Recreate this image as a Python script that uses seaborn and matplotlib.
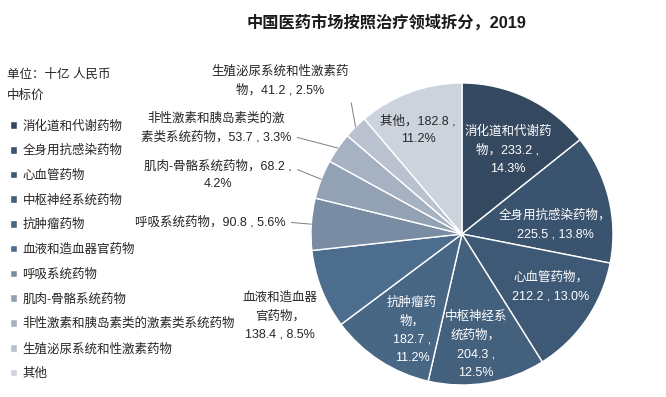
import numpy as np
import matplotlib
matplotlib.use("Agg")
import matplotlib.pyplot as plt
import seaborn as sns

# 中国医药市场按照治疗领域拆分, 2019 (十亿人民币, 中标价)
categories = ["消化道和代谢药物", "全身用抗感染药物", "心血管药物", "中枢神经系统药物",
              "抗肿瘤药物", "血液和造血器官药物", "呼吸系统药物", "肌肉-骨骼系统药物",
              "非性激素和胰岛素类的激素类系统药物", "生殖泌尿系统和性激素药物", "其他"]
values = [233.2, 225.5, 212.2, 204.3, 182.7, 138.4, 90.8, 68.2, 53.7, 41.2, 182.8]
pcts = ["14.3%", "13.8%", "13.0%", "12.5%", "11.2%", "8.5%", "5.6%", "4.2%", "3.3%", "2.5%", "11.2%"]
# how each data label is wrapped on the chart
label_fmt = ["消化道和代谢药\n物，{v} ,\n{p}",
             "全身用抗感染药物，\n{v} , {p}",
             "心血管药物，\n{v} , {p}",
             "中枢神经系\n统药物，\n{v} ,\n{p}",
             "抗肿瘤药\n物，\n{v} ,\n{p}",
             "血液和造血器\n官药物，\n{v} , {p}",
             "呼吸系统药物，{v} , {p}",
             "肌肉-骨骼系统药物，{v} ,\n{p}",
             "非性激素和胰岛素类的激\n素类系统药物，{v} , {p}",
             "生殖泌尿系统和性激素药\n物，{v} , {p}",
             "其他，{v} ,\n{p}"]

colors = ["#34495f", "#3a536e", "#3e5975", "#43607d", "#486785", "#4d6d8e",
          "#798ca3", "#92a1b4", "#a6b2c1", "#b9c2ce", "#cdd3dd"]

sns.set_theme(style="white")
plt.rcParams["font.family"] = ["Liberation Sans", "Noto Sans CJK SC", "DejaVu Sans"]

fig = plt.figure(figsize=(6.66, 3.97), dpi=100)
fig.patch.set_facecolor("white")

# pie centre at (462, 234) px, radius 151 px
cx, cy, r = 462, 234, 151
W, H = 666, 397
ax = fig.add_axes([(cx - r) / W, (H - cy - r) / H, 2 * r / W, 2 * r / H])

wedges, _ = ax.pie(values, colors=colors, startangle=90, counterclock=False,
                   wedgeprops=dict(edgecolor="white", linewidth=1.0))
ax.set_xlim(-1, 1)
ax.set_ylim(-1, 1)
ax.set_aspect("equal")
ax.axis("off")


def px(x, y):
    return ((x - cx) / r, (cy - y) / r)


# label centres in pixels
label_pos = [(508, 150), (555, 225), (551, 287), (476, 345), (412, 330), (280, 316),
             (210, 222), (218, 175), (216, 128), (280, 81), (418, 130)]
inside_white = [0, 1, 2, 3, 4]
# where the leader line leaves the text box
leader_rel = {6: (1, 0.5), 7: (1, 0.75), 8: (1, 0.25), 9: (1, 0.25)}

for i, w in enumerate(wedges):
    txt = label_fmt[i].format(v=f"{values[i]:.1f}", p=pcts[i])
    color = "white" if i in inside_white else "#262626"
    tx, ty = px(*label_pos[i])
    if i in leader_rel:
        ang = np.deg2rad((w.theta1 + w.theta2) / 2)
        ax.annotate(txt, xy=(np.cos(ang), np.sin(ang)), xytext=(tx, ty),
                    ha="center", va="center", fontsize=9, color=color,
                    linespacing=1.7, annotation_clip=False,
                    arrowprops=dict(arrowstyle="-", color="#7f7f7f", lw=0.7,
                                    shrinkA=2, shrinkB=0, relpos=leader_rel[i]))
    else:
        ax.text(tx, ty, txt, ha="center", va="center", fontsize=9, color=color,
                linespacing=1.7, clip_on=False)

fig.text(387 / W, 1 - 22 / H, "中国医药市场按照治疗领域拆分，2019", ha="center", va="center",
         fontsize=11.7, fontweight="bold", color="#1a1a1a")
fig.text(7 / W, 1 - 75 / H, "单位：十亿 人民币", ha="left", va="center", fontsize=9, color="#262626")
fig.text(7 / W, 1 - 96 / H, "中标价", ha="left", va="center", fontsize=9, color="#262626")

fig.legend(wedges, categories, loc="upper left", bbox_to_anchor=(10 / W, 1 - 120 / H),
           frameon=False, fontsize=9, handlelength=0.55, handleheight=0.55,
           handletextpad=0.45, labelspacing=1.0, borderaxespad=0, borderpad=0,
           labelcolor="#262626")

fig.savefig("out.png", dpi=100, facecolor="white")
